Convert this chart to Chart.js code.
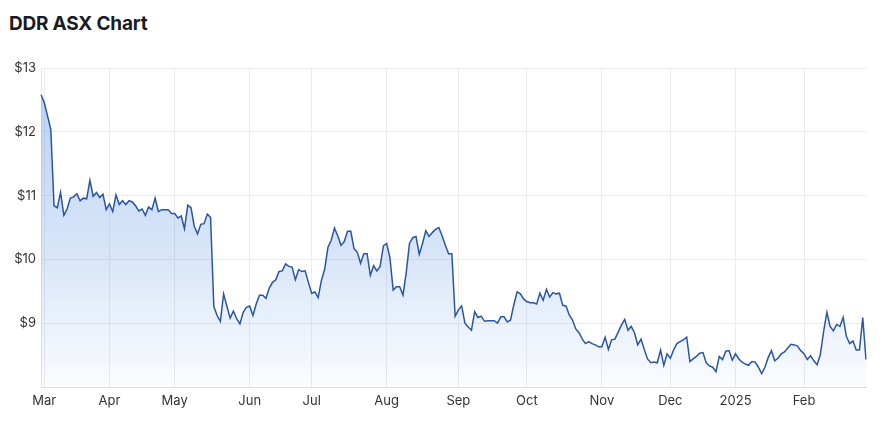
<!DOCTYPE html>
<html>
<head>
<meta charset="utf-8">
<script src="https://cdn.jsdelivr.net/npm/chart.js@4.4.1/dist/chart.umd.min.js"></script>
<style>
  html, body { margin: 0; padding: 0; background: #ffffff; }
  #wrap { position: relative; width: 886px; height: 430px; overflow: hidden; }
  #title { position: absolute; left: 9px; top: 12px; font-family: Inter, "Noto Sans", sans-serif; font-weight: 700; font-size: 19px; line-height: 24px; color: #1b1b24; letter-spacing: -0.2px; }
  #c { position: absolute; left: 0; top: 0; }
</style>
</head>
<body>
<div id="wrap">
  <div id="title">DDR ASX Chart</div>
  <canvas id="c" width="886" height="430"></canvas>
</div>
<script>
// Daily closing prices (A$), one per ASX trading day, 29 Feb 2024 – 28 Feb 2025
const prices = [
  12.58, 12.46, 12.25, 12.04, 10.84, 10.81, 11.05, 10.69, 10.79, 10.96,
  10.98, 11.03, 10.92, 10.96, 10.95, 11.24, 10.99, 11.05, 10.97, 11.02,
  10.78, 10.87, 10.75, 11.01, 10.86, 10.92, 10.86, 10.92, 10.90, 10.84,
  10.76, 10.79, 10.69, 10.82, 10.78, 10.96, 10.75, 10.78, 10.78, 10.78,
  10.72, 10.72, 10.65, 10.68, 10.48, 10.85, 10.81, 10.52, 10.40, 10.55,
  10.56, 10.71, 10.66, 9.26, 9.12, 9.03, 9.46, 9.27, 9.08, 9.19,
  9.07, 8.99, 9.17, 9.25, 9.27, 9.12, 9.30, 9.44, 9.44, 9.39,
  9.55, 9.64, 9.68, 9.81, 9.82, 9.93, 9.89, 9.88, 9.68, 9.84,
  9.81, 9.82, 9.64, 9.47, 9.49, 9.40, 9.67, 9.85, 10.19, 10.30,
  10.49, 10.37, 10.22, 10.28, 10.44, 10.44, 10.17, 10.11, 9.94, 10.09,
  10.09, 9.75, 9.90, 9.82, 9.89, 10.21, 10.25, 10.03, 9.52, 9.57,
  9.57, 9.44, 9.79, 10.25, 10.34, 10.36, 10.08, 10.25, 10.45, 10.36,
  10.42, 10.47, 10.50, 10.37, 10.22, 10.09, 10.09, 9.11, 9.21, 9.27,
  9.00, 8.94, 8.89, 9.18, 9.09, 9.11, 9.03, 9.04, 9.04, 9.04,
  9.00, 9.10, 9.10, 9.02, 9.05, 9.29, 9.49, 9.46, 9.38, 9.34,
  9.32, 9.32, 9.30, 9.47, 9.36, 9.53, 9.41, 9.48, 9.46, 9.47,
  9.28, 9.27, 9.13, 9.05, 8.91, 8.85, 8.75, 8.68, 8.71, 8.68,
  8.66, 8.63, 8.63, 8.78, 8.59, 8.74, 8.75, 8.86, 8.97, 9.06,
  8.89, 8.95, 8.85, 8.66, 8.75, 8.59, 8.44, 8.38, 8.39, 8.38,
  8.58, 8.34, 8.52, 8.45, 8.58, 8.68, 8.71, 8.74, 8.78, 8.40,
  8.44, 8.48, 8.53, 8.54, 8.38, 8.33, 8.31, 8.24, 8.48, 8.43,
  8.56, 8.57, 8.42, 8.52, 8.44, 8.39, 8.36, 8.34, 8.40, 8.39,
  8.31, 8.21, 8.31, 8.46, 8.57, 8.41, 8.45, 8.52, 8.55, 8.61,
  8.67, 8.66, 8.64, 8.57, 8.52, 8.43, 8.49, 8.41, 8.35, 8.51,
  8.87, 9.17, 8.95, 8.88, 8.98, 8.95, 9.09, 8.79, 8.68, 8.72,
  8.58, 8.58, 9.09, 8.43
];

// Month tick labels and the trading-day index where each month starts
const monthLabels = ['Mar', 'Apr', 'May', 'Jun', 'Jul', 'Aug', 'Sep', 'Oct', 'Nov', 'Dec', '2025', 'Feb'];
const monthStartIndex = [1, 21, 41, 64, 83, 106, 128, 149, 172, 193, 213, 234];

// Y-axis range and ticks
const yMin = 8;
const yMax = 13;
const yTickValues = [9, 10, 11, 12, 13];

// Categories: trading-day positions
const categories = prices.map((_, i) => String(i));

const tickLabelAt = {};
monthStartIndex.forEach((idx, k) => { tickLabelAt[idx] = monthLabels[k]; });

const ctx = document.getElementById('c').getContext('2d');
const font = { family: 'Inter, "Noto Sans", sans-serif', size: 13 };

new Chart(ctx, {
  type: 'line',
  data: {
    labels: categories,
    datasets: [{
      data: prices,
      borderColor: '#2a55a6',
      borderWidth: 1.5,
      pointRadius: 0,
      pointHoverRadius: 0,
      tension: 0,
      fill: 'start',
      backgroundColor: (context) => {
        const ca = context.chart.chartArea;
        if (!ca) return 'rgba(110,160,230,0.3)';
        const g = context.chart.ctx.createLinearGradient(0, ca.top, 0, ca.bottom);
        g.addColorStop(0, 'rgba(110,160,230,0.50)');
        g.addColorStop(0.6, 'rgba(110,160,230,0.26)');
        g.addColorStop(1, 'rgba(110,160,230,0.03)');
        return g;
      }
    }]
  },
  options: {
    responsive: false,
    animation: false,
    devicePixelRatio: 1,
    layout: { padding: { top: 68, right: 20, bottom: 0, left: 0 } },
    plugins: {
      legend: { display: false },
      title: { display: false },
      tooltip: { enabled: false }
    },
    scales: {
      x: {
        type: 'category',
        offset: false,
        grid: {
          display: true,
          color: '#ebebeb',
          lineWidth: 1,
          drawTicks: false
        },
        border: { display: true, color: '#dcdcdc' },
        ticks: {
          autoSkip: false,
          maxRotation: 0,
          minRotation: 0,
          padding: 6,
          color: '#333333',
          font: font,
          callback: function (value, index) {
            return tickLabelAt[index] !== undefined ? tickLabelAt[index] : null;
          }
        },
        afterFit: function (scale) { scale.height = 43; }
      },
      y: {
        min: yMin,
        max: yMax,
        grid: { color: '#ebebeb', lineWidth: 1, drawTicks: false },
        border: { display: true, color: '#e6e6e6' },
        afterBuildTicks: function (scale) {
          scale.ticks = yTickValues.map(v => ({ value: v }));
        },
        ticks: {
          padding: 5,
          color: '#333333',
          font: font,
          callback: function (value) { return '$' + value; }
        },
        afterFit: function (scale) { scale.width = 41; }
      }
    }
  }
});
</script>
</body>
</html>
